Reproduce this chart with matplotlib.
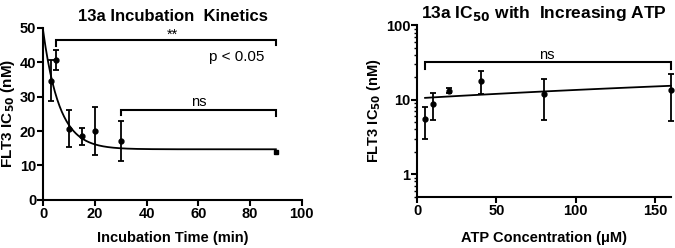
import matplotlib.pyplot as plt
import numpy as np

plt.rcParams['font.family'] = ['Liberation Sans', 'DejaVu Sans']
plt.rcParams['font.weight'] = 'bold'

# left panel: incubation kinetics
inc_time = [3, 5, 10, 15, 20, 30]
inc_ic50 = [34.6, 40.7, 20.7, 18.6, 20.0, 17.0]
inc_lo = [28.7, 37.8, 15.3, 16.0, 12.9, 11.3]
inc_hi = [40.5, 43.6, 26.0, 21.0, 27.1, 22.8]
end_time = [90]
end_ic50 = [13.8]
end_lo = [13.3]
end_hi = [14.3]
# one-phase decay fit: y = plateau + span*exp(-k t)
fit_plateau = 14.7
fit_span = 34.3
fit_k = 0.159

# right panel: IC50 vs ATP
atp = [5, 10, 20, 40, 80, 160]
atp_ic50 = [5.5, 8.8, 13.3, 18.0, 12.0, 13.7]
atp_lo = [3.0, 5.4, 12.3, 12.0, 5.3, 5.2]
atp_hi = [8.0, 12.3, 14.5, 24.0, 19.0, 22.5]
# linear fit
lin_slope = 0.031
lin_icept = 10.45

fig = plt.figure(figsize=(6.75, 2.48), dpi=100)
ax1 = fig.add_axes([0.064, 0.194, 0.383, 0.694])
ax2 = fig.add_axes([0.618, 0.207, 0.376, 0.691])


def style(ax):
    for s in ['top', 'right']:
        ax.spines[s].set_visible(False)
    for s in ['left', 'bottom']:
        ax.spines[s].set_linewidth(1.5)
    ax.tick_params(width=1.5, length=4, labelsize=10.5, pad=1)
    ax.tick_params(which='minor', width=1.0, length=2.5)
    for lab in ax.get_xticklabels() + ax.get_yticklabels():
        lab.set_fontweight('bold')


def bracket(ax, x0, x1, y, ydrop, label, lx, ly, fs=10.5):
    ax.plot([x0, x0, x1, x1], [ydrop[0], y, y, ydrop[1]], color='black',
            lw=1.5, clip_on=False, solid_joinstyle='miter')
    ax.text(lx, ly, label, ha='center', va='bottom', fontsize=fs,
            fontweight='normal')


# left
err = [np.array(inc_ic50) - np.array(inc_lo), np.array(inc_hi) - np.array(inc_ic50)]
ax1.errorbar(inc_time, inc_ic50, yerr=err, fmt='o', color='black', ms=3.5,
             elinewidth=1.3, capsize=2.5, capthick=1.3)
err_e = [np.array(end_ic50) - np.array(end_lo), np.array(end_hi) - np.array(end_ic50)]
ax1.errorbar(end_time, end_ic50, yerr=err_e, fmt='s', color='black', ms=3,
             elinewidth=1.3, capsize=1.5, capthick=1.3, clip_on=False)
t = np.linspace(0, 90, 300)
ax1.plot(t, fit_plateau + fit_span * np.exp(-fit_k * t), color='black', lw=1.3,
         clip_on=False)
ax1.set_xlim(0, 100)
ax1.set_ylim(0, 50)
ax1.set_xticks([0, 20, 40, 60, 80, 100])
ax1.set_yticks([0, 10, 20, 30, 40, 50])
bracket(ax1, 5, 90, 46.5, (44.8, 45.0), '**', 50, 46.0)
ax1.text(75, 41.5, 'p < 0.05', ha='center', va='center', fontsize=11,
         fontweight='normal')
bracket(ax1, 30, 90, 26.0, (24.7, 24.5), 'ns', 60, 26.3)
ax1.set_title('13a Incubation  Kinetics', fontsize=12, fontweight='bold', pad=5)
ax1.set_xlabel('Incubation Time (min)', fontsize=10.5, fontweight='bold', labelpad=7)
ax1.set_ylabel('FLT3 IC$_{\\mathbf{50}}$ (nM)', fontsize=11, fontweight='bold',
               labelpad=2)
style(ax1)

# right
err2 = [np.array(atp_ic50) - np.array(atp_lo), np.array(atp_hi) - np.array(atp_ic50)]
ax2.errorbar(atp, atp_ic50, yerr=err2, fmt='o', color='black', ms=3.5,
             elinewidth=1.3, capsize=2.5, capthick=1.3, clip_on=False)
xa = np.linspace(5, 160, 100)
ax2.plot(xa, lin_icept + lin_slope * xa, color='black', lw=1.3, clip_on=False)
ax2.set_yscale('log')
ax2.set_xlim(0, 160)
ax2.set_ylim(0.5, 100)
ax2.set_xticks([0, 50, 100, 150])
ax2.set_yticks([1, 10, 100])
ax2.set_yticklabels(['1', '10', '100'])
bracket(ax2, 5, 160, 32, (26, 26), 'ns', 82, 32.5)
ax2.set_title('13a IC$_{\\mathbf{50}}$ with  Increasing ATP', fontsize=12.5,
              fontweight='bold', pad=5)
ax2.set_xlabel('ATP Concentration (\u03bcM)', fontsize=10.5, fontweight='bold',
               labelpad=10)
ax2.set_ylabel('FLT3 IC$_{\\mathbf{50}}$ (nM)', fontsize=10.5, fontweight='bold',
               labelpad=2)
style(ax2)

fig.savefig('out.png', dpi=100)
